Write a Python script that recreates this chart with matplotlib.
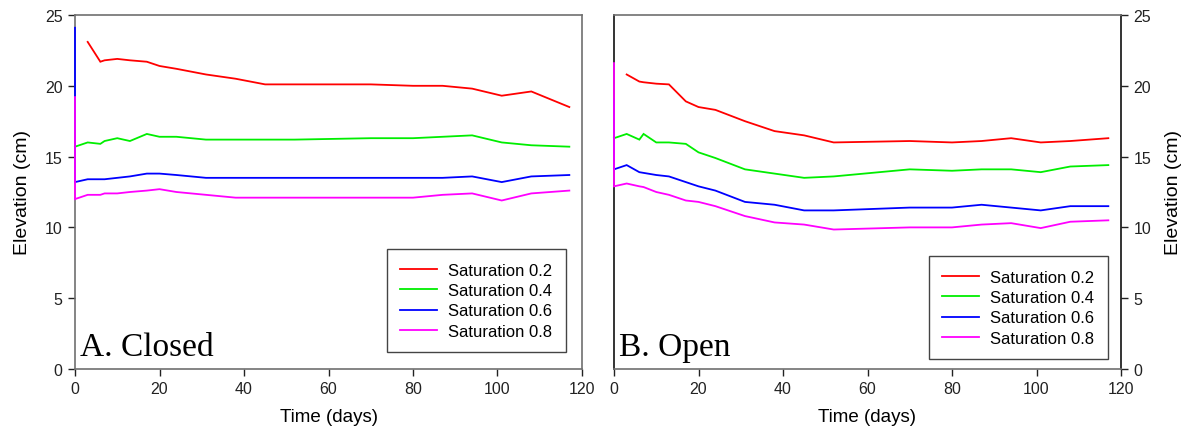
import numpy as np
import matplotlib
matplotlib.use("Agg")
import matplotlib.pyplot as plt

nan = np.nan
# sampling days (first 0 holds the initial spike value)
days = [0, 0, 3, 6, 7, 10, 13, 17, 20, 24, 31, 38, 45, 52, 70, 80, 87, 94, 101, 108, 117]

closed_s02 = [nan, nan, 23.1, 21.7, 21.8, 21.9, 21.8, 21.7, 21.4, 21.2, 20.8, 20.5, 20.1, 20.1, 20.1, 20.0, 20.0, 19.8, 19.3, 19.6, 18.5]
closed_s04 = [nan, 15.7, 16.0, 15.9, 16.1, 16.3, 16.1, 16.6, 16.4, 16.4, 16.2, 16.2, 16.2, 16.2, 16.3, 16.3, 16.4, 16.5, 16.0, 15.8, 15.7]
closed_s06 = [24.1, 13.2, 13.4, 13.4, 13.4, 13.5, 13.6, 13.8, 13.8, 13.7, 13.5, 13.5, 13.5, 13.5, 13.5, 13.5, 13.5, 13.6, 13.2, 13.6, 13.7]
closed_s08 = [19.2, 12.0, 12.3, 12.3, 12.4, 12.4, 12.5, 12.6, 12.7, 12.5, 12.3, 12.1, 12.1, 12.1, 12.1, 12.1, 12.3, 12.4, 11.9, 12.4, 12.6]

open_s02 = [nan, nan, 20.8, 20.3, 20.25, 20.15, 20.1, 18.9, 18.5, 18.3, 17.5, 16.8, 16.5, 16.0, 16.1, 16.0, 16.1, 16.3, 16.0, 16.1, 16.3]
open_s04 = [nan, 16.3, 16.6, 16.2, 16.6, 16.0, 16.0, 15.9, 15.3, 14.9, 14.1, 13.8, 13.5, 13.6, 14.1, 14.0, 14.1, 14.1, 13.9, 14.3, 14.4]
open_s06 = [19.0, 14.1, 14.4, 13.9, 13.85, 13.7, 13.6, 13.2, 12.9, 12.6, 11.8, 11.6, 11.2, 11.2, 11.4, 11.4, 11.6, 11.4, 11.2, 11.5, 11.5]
open_s08 = [21.6, 12.9, 13.1, 12.9, 12.85, 12.5, 12.3, 11.9, 11.8, 11.5, 10.8, 10.35, 10.2, 9.85, 10.0, 10.0, 10.2, 10.3, 9.95, 10.4, 10.5]

labels = ["Saturation 0.2", "Saturation 0.4", "Saturation 0.6", "Saturation 0.8"]
colors = ["#ff0000", "#00ee00", "#0000ff", "#ff00ff"]
xticks = [0, 20, 40, 60, 80, 100, 120]
yticks = [0, 5, 10, 15, 20, 25]

plt.rcParams['font.family'] = ['Liberation Sans', 'DejaVu Sans']

fig = plt.figure(figsize=(11.92, 4.39), dpi=100)
axL = fig.add_axes([75/1192, 69/439, 507/1192, 354/439])
axR = fig.add_axes([614/1192, 69/439, 507/1192, 354/439])

gray = "#707070"
for ax, data, title, right in [
        (axL, [closed_s02, closed_s04, closed_s06, closed_s08], "A. Closed", False),
        (axR, [open_s02, open_s04, open_s06, open_s08], "B. Open", True)]:
    for vals, c, lab in zip(data, colors, labels):
        ax.plot(days, vals, color=c, lw=1.3, label=lab, solid_joinstyle='miter',
                zorder=3, clip_on=False)
    ax.set_xlim(0, 120)
    ax.set_ylim(0, 25)
    ax.set_xticks(xticks)
    ax.set_yticks(yticks)
    ax.tick_params(direction='out', length=5, width=1, labelsize=11.5, colors='#222222', pad=4)
    ax.set_xlabel("Time (days)", fontsize=13.5, labelpad=8)
    for s in ax.spines.values():
        s.set_linewidth(1.2)
        s.set_color(gray)
    if right:
        ax.yaxis.tick_right()
        ax.yaxis.set_label_position("right")
        ax.set_ylabel("Elevation (cm)", fontsize=14, labelpad=10)
        ax.spines['left'].set_color('#111111')
        ax.spines['right'].set_color('#111111')
        ax.tick_params(axis='y', colors='#222222')
        leg_anchor = (0.974, 0.028)
    else:
        ax.set_ylabel("Elevation (cm)", fontsize=14, labelpad=10)
        leg_anchor = (0.968, 0.048)
    ax.text(0.01, 0.04, title, transform=ax.transAxes, fontsize=24,
            family=['Liberation Serif', 'DejaVu Serif'], ha='left', va='baseline')
    leg = ax.legend(loc='lower right', bbox_to_anchor=leg_anchor, fontsize=12,
                    fancybox=False, edgecolor='#444444', framealpha=1,
                    handlelength=2.2, handletextpad=0.7, labelspacing=0.32,
                    borderpad=0.8, borderaxespad=0)
    leg.get_frame().set_linewidth(1.0)
    leg.set_zorder(4)

fig.savefig("out.png", dpi=100)
